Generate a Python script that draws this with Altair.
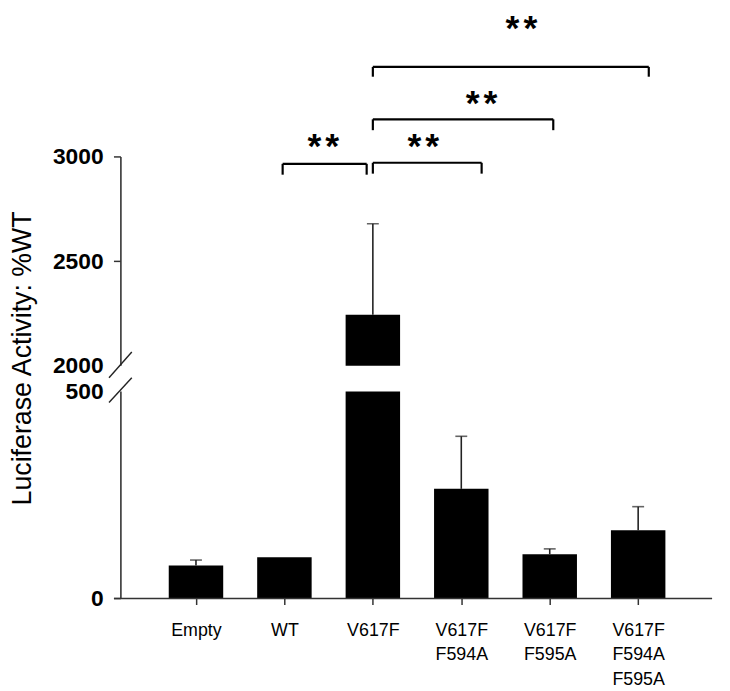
import altair as alt
import pandas as pd

# ---------------- data ----------------
categories = ["Empty", "WT", "V617F", "V617F|F594A", "V617F|F595A", "V617F|F594A|F595A"]
means = [80, 100, 2245, 265, 107, 165]
upper = [93, 100, 2680, 392, 120, 222]   # top of error bar (WT: none)

y_ticks = [0, 500, 2000, 2500, 3000]
break_low = 500
break_high = 2000
y_top = 3697

bracket_from = [0.98, 2.0, 2.0, 2.0]
bracket_to = [1.93, 3.23, 4.04, 5.12]
bracket_y = [2967, 2972, 3180, 3431]
bracket_leg = [2915, 2920, 3128, 3384]
star_x = [1.44, 2.57, 3.23, 3.68]
star_y = [3090, 3090, 3294, 3654]
star_char = ["*", "*", "*", "*"]

# ---------------- tables ----------------
bars = pd.DataFrame({"idx": list(range(len(categories))), "cat": categories,
                     "mean": means, "upper": upper})
errs = bars[bars["upper"] > bars["mean"]]
gap = bars[bars["mean"] > break_high].assign(lo=break_low, hi=break_high)
axis_seg = pd.DataFrame({"lo": [0, break_high], "hi": [break_low, max(y_ticks)]})
tick_df = pd.DataFrame({"v": [v for v in y_ticks if v not in (break_low, break_high)]})
brackets = pd.DataFrame({"x1": bracket_from, "x2": bracket_to, "y": bracket_y, "leg": bracket_leg})
stars = pd.DataFrame({"x": star_x, "y": star_y, "t": star_char})
dummy = pd.DataFrame({"a": [0]})

FONT = "Liberation Sans"
W, H = 597, 593

xsc = alt.Scale(domain=[-0.793, 5.78], nice=False, zero=False)
ysc = alt.Scale(domain=[0, break_low, break_high, y_top],
                range=[H, 384, 358, 0], nice=False, zero=False)

js_cats = "[" + ",".join("'" + c + "'" for c in categories) + "]"

x_axis = alt.Axis(values=list(range(len(categories))),
                  labelExpr=f"split({js_cats}[datum.value], '|')",
                  domain=False, grid=False, tickSize=6, tickWidth=1.5, tickColor="#333",
                  labelFont=FONT, labelFontSize=18, labelColor="black",
                  labelPadding=17, labelLineHeight=25, labelFlush=False, title=None)

y_axis = alt.Axis(values=y_ticks, format="d", domain=False, grid=False, ticks=False,
                  labelFont=FONT, labelFontSize=23, labelFontWeight="bold", labelColor="black",
                  labelPadding=18, labelOverlap=False, labelFlush=False,
                  title="Luciferase Activity: %WT", titleFont=FONT, titleFontSize=27,
                  titleFontWeight="normal", titleColor="black", titleAngle=-90,
                  titleX=-99, titleY=350, titleAlign="center", titleBaseline="middle")

bar_layer = alt.Chart(bars).mark_bar(size=55, color="black").encode(
    x=alt.X("idx:Q", scale=xsc, axis=x_axis),
    y=alt.Y("mean:Q", scale=ysc, axis=y_axis),
)

gap_layer = alt.Chart(gap).mark_bar(size=61, color="white").encode(
    x=alt.X("idx:Q", scale=xsc),
    y=alt.Y("lo:Q", scale=ysc),
    y2="hi:Q",
)

err_rule = alt.Chart(errs).mark_rule(color="#222", strokeWidth=1.6).encode(
    x=alt.X("idx:Q", scale=xsc),
    y=alt.Y("mean:Q", scale=ysc),
    y2="upper:Q",
)
err_cap = alt.Chart(errs).mark_tick(color="#222", orient="horizontal", size=12, thickness=1.6).encode(
    x=alt.X("idx:Q", scale=xsc),
    y=alt.Y("upper:Q", scale=ysc),
)

y_line = alt.Chart(axis_seg).mark_rule(color="#333", strokeWidth=1.6).encode(
    x=alt.value(0),
    y=alt.Y("lo:Q", scale=ysc),
    y2="hi:Q",
)
y_ticks_layer = alt.Chart(tick_df).mark_rule(color="#333", strokeWidth=1.5).encode(
    x=alt.value(-7), x2=alt.value(0),
    y=alt.Y("v:Q", scale=ysc),
)
x_line = alt.Chart(dummy).mark_rule(color="#333", strokeWidth=1.6).encode(
    x=alt.value(-7), x2=alt.value(W),
    y=alt.Y(datum=0, scale=ysc),
)
slash1 = alt.Chart(dummy).mark_rule(color="#222", strokeWidth=1.4).encode(
    x=alt.value(-12), x2=alt.value(11), y=alt.value(370), y2=alt.value(344))
slash2 = alt.Chart(dummy).mark_rule(color="#222", strokeWidth=1.4).encode(
    x=alt.value(-12), x2=alt.value(11), y=alt.value(395), y2=alt.value(370))

br_h = alt.Chart(brackets).mark_rule(color="black", strokeWidth=2.2).encode(
    x=alt.X("x1:Q", scale=xsc), x2="x2:Q",
    y=alt.Y("y:Q", scale=ysc),
)
br_l = alt.Chart(brackets).mark_rule(color="black", strokeWidth=2.2).encode(
    x=alt.X("x1:Q", scale=xsc),
    y=alt.Y("y:Q", scale=ysc), y2="leg:Q",
)
br_r = alt.Chart(brackets).mark_rule(color="black", strokeWidth=2.2).encode(
    x=alt.X("x2:Q", scale=xsc),
    y=alt.Y("y:Q", scale=ysc), y2="leg:Q",
)


def star_layer(dx):
    return alt.Chart(stars).mark_text(font=FONT, fontSize=36, fontWeight="bold", color="black",
                                      baseline="alphabetic", dy=20, dx=dx).encode(
        x=alt.X("x:Q", scale=xsc),
        y=alt.Y("y:Q", scale=ysc),
        text="t:N",
    )


chart = alt.layer(bar_layer, gap_layer, err_rule, err_cap, y_line, y_ticks_layer, x_line,
                  slash1, slash2, br_h, br_l, br_r, star_layer(-9), star_layer(9)).properties(
    width=W, height=H, autosize="none",
    padding={"left": 114, "top": 0, "right": 10, "bottom": 90},
).configure_view(stroke=None)

chart.save("out.html", embed_options={"renderer": "svg", "actions": False})
